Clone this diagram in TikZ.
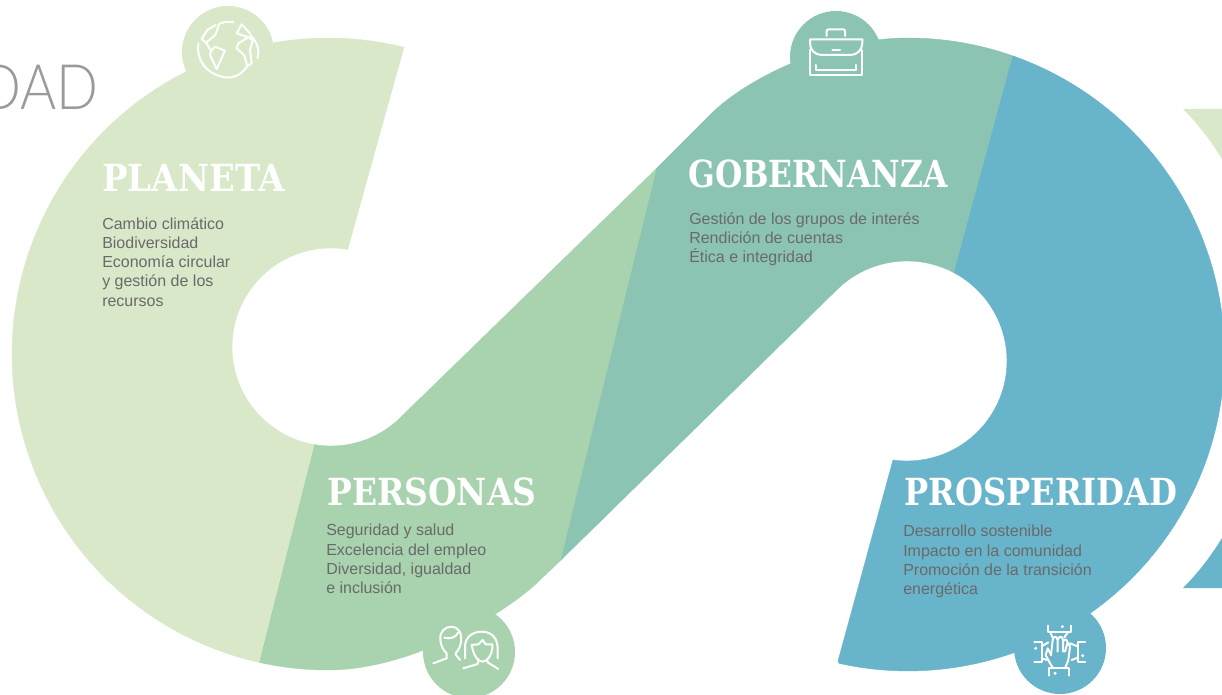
\documentclass[tikz,border=0pt]{standalone}
\usepackage{fontspec}
\usepackage{graphicx}
\setmainfont{Liberation Sans}
\newfontfamily\titlefont[FakeStretch=0.84]{DejaVu Serif Bold}
\newfontfamily\bodyfont{Liberation Sans}
\newfontfamily\thinfont[UprightFont=* Light,FakeStretch=0.88]{Lato}
\definecolor{cplaneta}{HTML}{D9E8C8}
\definecolor{cpersonas}{HTML}{A8D3AE}
\definecolor{cgober}{HTML}{8CC4B3}
\definecolor{cprosp}{HTML}{68B4CA}
\definecolor{ctext}{HTML}{6A6A6A}
\definecolor{cthin}{HTML}{9A9A9A}
\tikzset{
 x=0.75pt,y=-0.75pt,
 badge/.style={circle,minimum size=69pt,inner sep=0pt,draw=none},
 titletext/.style={anchor=base west,inner sep=0pt,text=white,font=\titlefont\fontsize{28}{28}\selectfont},
 bodytext/.style={anchor=north west,inner sep=0pt,text=ctext,align=left,font=\bodyfont\fontsize{12}{14.45}\selectfont},
 icon/.style={draw=white,line width=1.5pt,line cap=round,line join=round,fill=none},
 zoomed/.style={shift={#1},x=0.25pt,y=-0.25pt},
 arcdom/.style={domain=#1,samples=90},
}
\begin{document}
\begin{tikzpicture}
\useasboundingbox (0,0) rectangle (1222,695);
\clip (0,0) rectangle (1222,695);
% far right fragments
\fill[cplaneta] (1183,109) -- (1222,109) -- (1222,159) .. controls (1211,141) and (1198,124) .. cycle;
\fill[cprosp] (1183,588) -- (1222,588) -- (1222,538) .. controls (1211,556) and (1198,573) .. cycle;
% thin heading fragments
\node[anchor=base west,inner sep=0pt,text=cthin,font=\thinfont\fontsize{47}{47}\selectfont] (dad) at (-21,110) {DAD};
\node[anchor=base west,inner sep=0pt,text=cthin,font=\thinfont\fontsize{22}{22}\selectfont] (frag) at (-17,215) {A};
% badges
\node[badge,fill=cplaneta] (b1) at (228,52) {};
\node[badge,fill=cgober] (b2) at (836,57) {};
\node[badge,fill=cpersonas] (b3) at (469,652) {};
\node[badge,fill=cprosp] (b4) at (1060,648) {};
% personas
\fill[cpersonas,draw=cpersonas,line width=0.3pt] (259,662) -- (314,445)
  -- plot[arcdom=99.8:44.2] ({331+99*cos(\x)},{347+99*sin(\x)}) -- (657,168) -- (561,560) -- (540,580)
  .. controls (510,610) and (415,670) .. (328,670)
  -- plot[arcdom=90:102.6] ({328+316*cos(\x)},{354+316*sin(\x)}) -- cycle;
% gobernanza
\fill[cgober,draw=cgober,line width=0.3pt] (657,168) -- (713,112)
  .. controls (745,81) and (825,38) .. (908,38)
  -- plot[arcdom=-90:-70.4] ({908+316.5*cos(\x)},{354.5+316.5*sin(\x)}) -- (954,273)
  -- plot[arcdom=-61.9:-135] ({907+100*cos(\x)},{361+100*sin(\x)}) -- (561,560) -- cycle;
% prosperidad
\fill[cprosp,draw=cprosp,line width=0.3pt] (1013,56)
  -- plot[arcdom=-70.4:102.6] ({908+316.5*cos(\x)},{354.5+316.5*sin(\x)}) -- (838,661) -- (893,460)
  -- plot[arcdom=98:-61.9] ({907+100*cos(\x)},{361+100*sin(\x)}) -- cycle;
% planeta
\fill[cplaneta,draw=cplaneta,line width=0.3pt] (404,47)
  -- plot[arcdom=-76.1:-257.4] ({328+316*cos(\x)},{354+316*sin(\x)}) -- (259,662) -- (314,445)
  -- plot[arcdom=-260.2:-80.3] ({331+99*cos(\x)},{347+99*sin(\x)}) -- cycle;
% titles
\node[titletext] (t1) at (102,192) {\scalebox{1.084}[1]{PLANETA}};
\node[titletext] (t2) at (688,188) {GOBERNANZA};
\node[titletext] (t3) at (327,505) {\scalebox{1.05}[1]{PERSONAS}};
\node[titletext] (t4) at (904,505) {\scalebox{1.026}[1]{PROSPERIDAD}};
% lists
\node[bodytext] (l1) at (102,217) {Cambio climático\\Biodiversidad\\Economía circular\\y gestión de los\\recursos};
\node[bodytext] (l2) at (689,212) {Gestión de los grupos de interés\\Rendición de cuentas\\Ética e integridad};
\node[bodytext] (l3) at (326,524) {Seguridad y salud\\Excelencia del empleo\\Diversidad, igualdad\\e inclusión};
\node[bodytext] (l4) at (903,525) {Desarrollo sostenible\\Impacto en la comunidad\\Promoción de la transición\\energética};
% globe
\begin{scope}[zoomed={(170,0)}]
\draw[icon] (85,130) .. controls (78,175) and (105,222) .. (165,232) .. controls (190,235) and (215,225) .. (232,198);
\draw[icon] (150,70) .. controls (165,65) and (178,65) .. (190,67);
\draw[icon] (240,105) .. controls (262,125) and (270,150) .. (262,175);
\draw[icon] (147,72) -- (136,105) -- (108,128) -- (95,117) -- (112,90) -- (137,75);
\draw[icon] (108,128) -- (123,152) -- (120,165) -- (140,207) -- (165,152) -- (135,140) -- (123,152);
\draw[icon] (215,73) -- (200,100) -- (235,112) -- (205,130) -- (200,145) -- (222,165) -- (232,198) -- (245,190) -- (240,150) -- (248,120) -- (235,112);
\draw[icon] (215,73) -- (240,100);
\end{scope}
% briefcase
\begin{scope}[zoomed={(780,0)}]
\draw[icon] (140,108) -- (140,94) .. controls (140,90) and (142,88) .. (146,88) -- (189,88) .. controls (193,88) and (195,90) .. (195,94) -- (195,108);
\draw[icon] (90,118) -- (247,118) -- (247,130) .. controls (247,150) and (230,165) .. (212,165) -- (125,165) .. controls (105,165) and (90,150) .. (90,130) -- cycle;
\draw[icon] (157,149) -- (180,149);
\draw[icon] (90,150) -- (90,225) -- (247,225) -- (247,150);
\draw[icon] (108,195) -- (108,210) -- (228,210) -- (228,195);
\end{scope}
% people
\begin{scope}[zoomed={(415,605)}]
\draw[icon] (55,175) -- (95,160) -- (95,145) .. controls (85,135) and (78,125) .. (76,105) .. controls (73,80) and (90,65) .. (110,65) .. controls (130,65) and (142,85) .. (138,110) .. controls (136,125) and (130,135) .. (122,145) -- (123,150) -- (135,165);
\draw[icon] (88,98) .. controls (105,103) and (122,98) .. (130,82);
\draw[icon] (150,160) -- (150,125) .. controls (150,95) and (175,80) .. (200,80) .. controls (230,80) and (248,100) .. (248,130) -- (248,160);
\draw[icon] (170,120) -- (190,118) -- (203,105) -- (212,118) -- (232,118) -- (232,130) .. controls (230,150) and (218,170) .. (202,170) .. controls (188,170) and (175,150) .. (170,120);
\draw[icon] (145,190) -- (188,177) -- (190,162);
\draw[icon] (216,162) -- (218,172) -- (250,192);
\end{scope}
% hands
\begin{scope}[zoomed={(1005,605)}]
\draw[icon] (128,62) -- (128,80) -- (198,80) -- (198,62);
\draw[icon] (136,80) -- (142,97); \draw[icon] (190,80) -- (178,97);
\draw[icon] (88,110) -- (110,110) -- (110,172) -- (88,172);
\draw[icon] (110,124) -- (130,112); \draw[icon] (110,160) -- (125,165);
\draw[icon] (240,110) -- (218,110) -- (218,172) -- (240,172);
\draw[icon] (218,124) -- (195,115); \draw[icon] (218,158) -- (200,165);
\draw[icon] (133,212) -- (133,190) -- (192,190) -- (192,212);
\draw[icon] (145,190) -- (135,175) -- (122,150) -- (128,130) -- (138,150);
\draw[icon] (180,190) -- (190,165) -- (195,125) -- (188,112) -- (180,140);
\draw[icon] (138,150) -- (143,105) .. controls (146,92) and (156,92) .. (158,105) -- (158,140);
\draw[icon] (158,105) .. controls (162,92) and (172,92) .. (174,105) -- (174,140);
\draw[icon] (174,110) .. controls (178,100) and (186,102) .. (187,112);
\fill[white] (172,65) circle[radius=5] (92,130) circle[radius=5] (233,152) circle[radius=5] (150,205) circle[radius=5];
\end{scope}
\end{tikzpicture}
\end{document}
